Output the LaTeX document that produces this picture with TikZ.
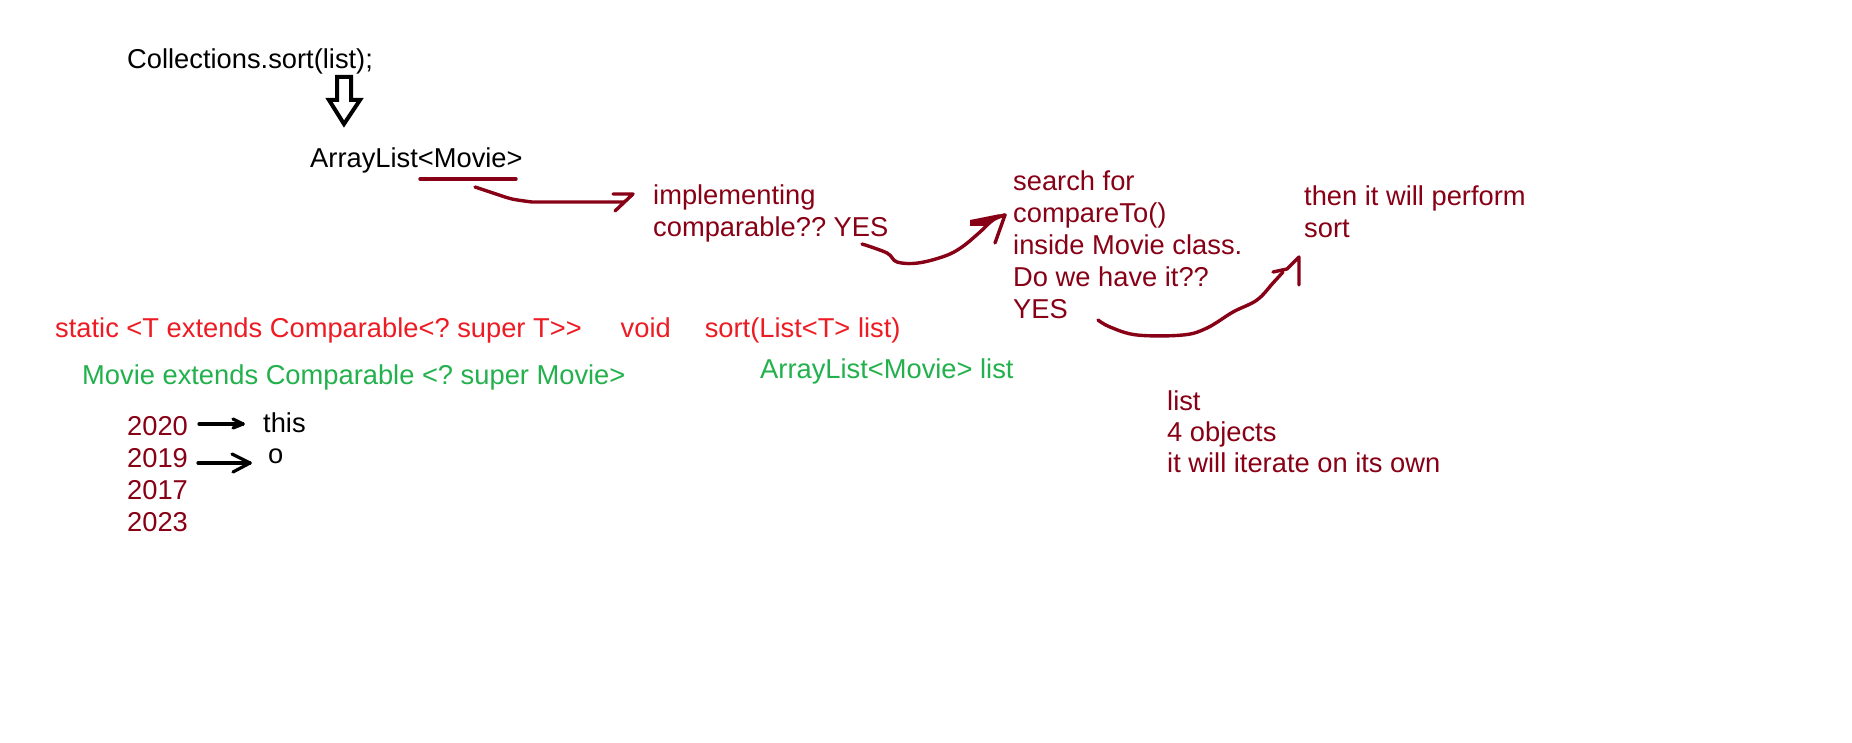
\documentclass[tikz,border=0pt]{standalone}
\usepackage{fontspec}
\setmainfont{Liberation Sans}[Ligatures=TeXOff]
\definecolor{dred}{HTML}{880015}
\definecolor{pred}{HTML}{ED1C24}
\definecolor{pgreen}{HTML}{22B14C}
\frenchspacing
\begin{document}
\begin{tikzpicture}[x=1pt,y=-1pt,
  txt/.style={inner sep=0pt, anchor=base west, font=\fontsize{27.3}{32}\selectfont},
  mtxt/.style={inner sep=0pt, anchor=north west, align=left, font=\fontsize{27.3}{32}\selectfont},
  hand/.style={draw=dred, line width=3.4pt, line cap=round, line join=round},
  pen/.style={draw=black, line width=3.2pt, line cap=round, line join=round}]
\useasboundingbox[fill=white] (0,0) rectangle (1852,743);

% black texts
\node[txt] (coll) at (127,69) {Collections.sort(list);};
\node[txt] (alist) at (310,168) {ArrayList<Movie>};
% hollow block arrow
\draw[line width=4pt, line join=miter] (337,77) -- (351,77) -- (351,100) -- (360,100) -- (344,124) -- (329,100) -- (337,100) -- cycle;

% dark red texts
\node[mtxt, text=dred] (impl) at (653,181.6) {\strut implementing\\comparable?? YES};
\node[mtxt, text=dred] (search) at (1013,167.6) {\strut search for\\compareTo()\\inside Movie class.\\Do we have it??\\YES};
\node[mtxt, text=dred] (then) at (1304,182.6) {\strut then it will perform\\sort};
\node[mtxt, text=dred, font=\fontsize{27.3}{31}\selectfont] (objs) at (1167,388.6) {\strut list\\4 objects\\it will iterate on its own};
\node[mtxt, text=dred] (years) at (127,412.6) {\strut 2020\\2019\\2017\\2023};

% red and green texts
\node[txt, text=pred] (sig) at (55,337) {static <T extends Comparable<? super T>>\hspace{39pt}void\hspace{34pt}sort(List<T> list)};
\node[txt, text=pgreen] (mov) at (82,384) {Movie extends Comparable <? super Movie>};
\node[txt, text=pgreen] (alist2) at (760,378) {ArrayList<Movie> list};

% black small texts
\node[txt] (this) at (263,432) {this};
\node[txt] (o) at (268,463) {o};

% underline of Movie
\coordinate (ul1) at (420,179);
\coordinate (ul2) at (516,179);
\draw[hand] (ul1) -- (ul2);

% arrow 1: Movie -> implementing
\coordinate (a1s) at (475,187);
\coordinate (a1t) at (633,194);
\draw[hand] plot[smooth] coordinates {(a1s) (493,193) (512,199) (532,202)} -- (624,202);
\draw[hand] (613,194) -- (a1t) -- (615,211);

% arrow 2: YES -> search
\coordinate (a2s) at (862,244);
\coordinate (a2t) at (1005,215);
\draw[hand] plot[smooth, tension=0.6] coordinates {(a2s) (887,253) (897,262) (918,263) (945,256) (962,247) (980,232) (993,220) (a2t)};
\draw[hand] (972,223) -- (a2t) -- (995,243);
\fill[dred] (970,220) -- (1000,214) -- (986,226) -- (970,226) -- cycle;

% arrow 3: YES -> then
\coordinate (a3s) at (1098,320);
\coordinate (a3t) at (1299,257);
\draw[hand] plot[smooth, tension=0.6] coordinates {(a3s) (1110,327) (1137,335) (1183,335) (1207,328) (1233,312) (1257,300) (1273,283) (1283,272)};
\draw[hand] (1273,272) -- (1287,269) -- (a3t) -- (1299,285);

% small black arrows
\coordinate (b1s) at (199,424);
\coordinate (b1t) at (243,424);
\draw[pen] (b1s) -- (b1t);
\draw[pen] (233,419) -- (b1t) -- (233,428);
\coordinate (b2s) at (198,463);
\coordinate (b2t) at (250,463);
\draw[pen] (b2s) -- (b2t);
\draw[pen] (232,454) -- (b2t) -- (233,472);
\end{tikzpicture}
\end{document}
